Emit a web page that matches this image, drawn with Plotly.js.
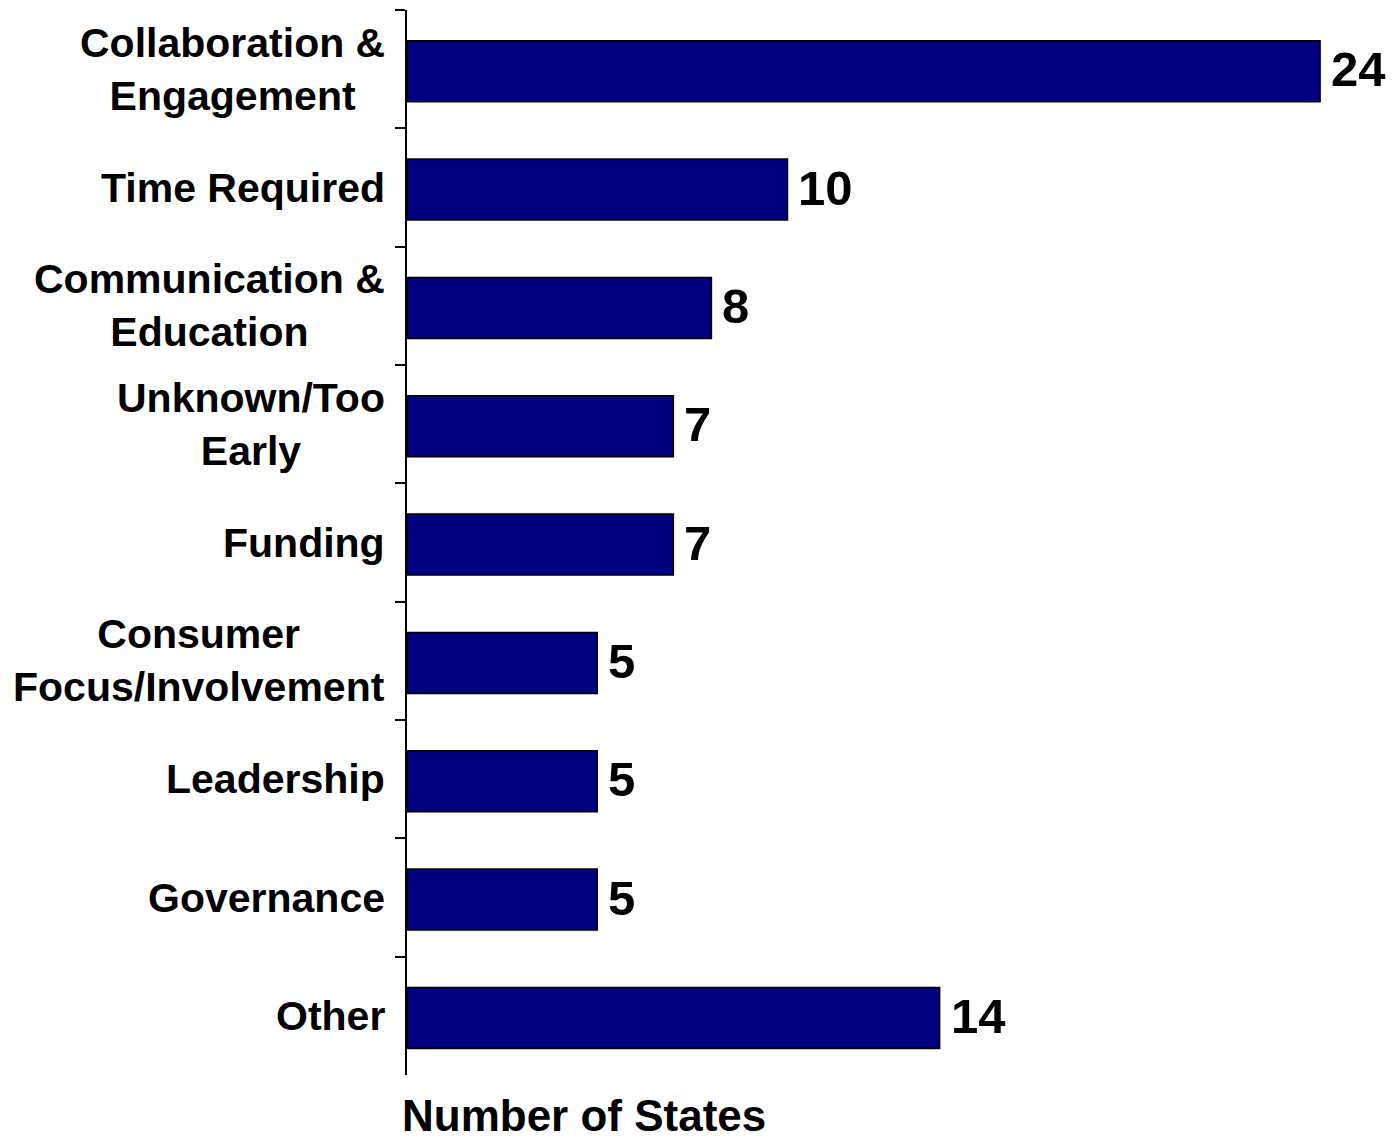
<!DOCTYPE html>
<html>
<head>
<meta charset="utf-8">
<script src="https://cdn.plot.ly/plotly-3.0.1.min.js"></script>
<style>html,body{margin:0;padding:0;background:#fff;}#chart{width:1395px;height:1147px;}</style>
</head>
<body>
<div id="chart"></div>
<script>
const categories = [
  "Collaboration &<br>Engagement",
  "Time Required",
  "Communication &<br>Education",
  "Unknown/Too<br>Early",
  "Funding",
  "Consumer<br>Focus/Involvement",
  "Leadership",
  "Governance",
  "Other"
];
const values = [24, 10, 8, 7, 7, 5, 5, 5, 14];
const axisTitle = "Number of States";

const FONT = "'Liberation Sans', Arial, sans-serif";
const ids = categories.map((c, i) => "c" + i);

const trace = {
  type: "bar",
  orientation: "h",
  y: ids,
  x: values,
  width: 0.515,
  offset: -0.24,
  marker: { color: "#000080", line: { color: "#000000", width: 1.6 } },
  hoverinfo: "none"
};

const annotations = [];
categories.forEach((c, i) => {
  annotations.push({
    xref: "paper", yref: "y", x: 0, y: ids[i],
    xanchor: "right", yanchor: "middle", xshift: -20,
    align: "center", showarrow: false,
    text: "<b>" + c + "</b>",
    font: { family: FONT, size: 41, color: "#000" }
  });
  annotations.push({
    xref: "x", yref: "y", x: values[i], y: ids[i],
    xanchor: "left", yanchor: "middle", xshift: 9,
    showarrow: false,
    text: "<b>" + values[i] + "</b>",
    font: { family: FONT, size: 49, color: "#000" }
  });
});
annotations.push({
  xref: "paper", yref: "paper", x: 0.179, y: -0.038,
  xanchor: "center", yanchor: "middle", showarrow: false, borderpad: 0,
  text: "<b>" + axisTitle + "</b>",
  font: { family: FONT, size: 44, color: "#000" }
});

const layout = {
  width: 1395, height: 1147,
  margin: { l: 407, r: 0, t: 10, b: 72 },
  paper_bgcolor: "#fff", plot_bgcolor: "#fff",
  showlegend: false,
  xaxis: { visible: false, range: [0, 25.97], fixedrange: true },
  yaxis: {
    type: "category",
    autorange: "reversed",
    showline: true, linecolor: "#000", linewidth: 2,
    ticks: "outside", tickson: "boundaries", ticklen: 10, tickwidth: 2, tickcolor: "#000",
    showticklabels: false, showgrid: false, zeroline: false,
    fixedrange: true
  },
  annotations: annotations
};

Plotly.newPlot("chart", [trace], layout, { displayModeBar: false, staticPlot: true });
</script>
</body>
</html>
